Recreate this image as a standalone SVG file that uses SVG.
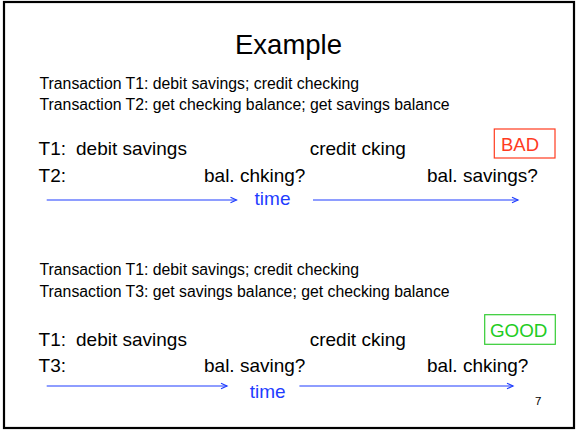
<svg xmlns="http://www.w3.org/2000/svg" width="576" height="430" viewBox="0 0 576 430">
<style>
text{font-family:"Liberation Sans",Arial,sans-serif;fill:#000}
.s{font-size:15.8px}
.m{font-size:19px}
.blue{fill:#1f3dff}
.ax{stroke:#1f3dff;stroke-width:1.2;fill:none}
</style>
<defs>
<marker id="ah" markerWidth="10" markerHeight="10" refX="8" refY="4" orient="auto" markerUnits="userSpaceOnUse">
<polyline points="2,1.2 8,4 2,6.8" fill="none" stroke="#1f3dff" stroke-width="1.2"/>
</marker>
</defs>
<rect x="4" y="2" width="570" height="426" fill="#fff" stroke="#000" stroke-width="2.2"/>
<text x="288.5" y="53.5" font-size="27.5" text-anchor="middle">Example</text>

<g id="top">
<text class="s" x="39.5" y="89">Transaction T1: debit savings; credit checking</text>
<text class="s" x="39.5" y="110">Transaction T2: get checking balance; get savings balance</text>
<text class="m" x="38.6" y="155">T1:</text>
<text class="m" x="76" y="155">debit savings</text>
<text class="m" x="309.7" y="155">credit cking</text>
<text class="m" x="38.6" y="182">T2:</text>
<text class="m" x="204" y="182">bal. chking?</text>
<text class="m" x="427" y="182">bal. savings?</text>
<g id="bad">
<rect x="494.3" y="129" width="60.7" height="29" fill="none" stroke="#ff3b1f" stroke-width="1.2"/>
<text x="501" y="150.5" font-size="18.5" style="fill:#ff3b1f">BAD</text>
</g>
<text class="m blue" x="254.6" y="205">time</text>
</g>

<g id="bottom">
<text class="s" x="39.5" y="275">Transaction T1: debit savings; credit checking</text>
<text class="s" x="39.5" y="297">Transaction T3: get savings balance; get checking balance</text>
<text class="m" x="38.6" y="346">T1:</text>
<text class="m" x="76" y="346">debit savings</text>
<text class="m" x="309.7" y="346">credit cking</text>
<text class="m" x="38.6" y="372">T3:</text>
<text class="m" x="204" y="372">bal. saving?</text>
<text class="m" x="427" y="372">bal. chking?</text>
<g id="good">
<rect x="484.7" y="314.7" width="70.6" height="29.6" fill="none" stroke="#33cc33" stroke-width="1.2"/>
<text x="490" y="336.7" font-size="18.8" style="fill:#22cc22">GOOD</text>
</g>
<text class="m blue" x="249.8" y="398">time</text>
</g>

<g id="connectors">
<line class="ax" x1="46.7" y1="200" x2="236.5" y2="200" marker-end="url(#ah)"/>
<line class="ax" x1="313" y1="200" x2="518" y2="200" marker-end="url(#ah)"/>
<line class="ax" x1="46.7" y1="386" x2="227" y2="386" marker-end="url(#ah)"/>
<line class="ax" x1="299.4" y1="386" x2="513" y2="386" marker-end="url(#ah)"/>
</g>

<text x="535" y="405" font-size="11.5">7</text>
</svg>
